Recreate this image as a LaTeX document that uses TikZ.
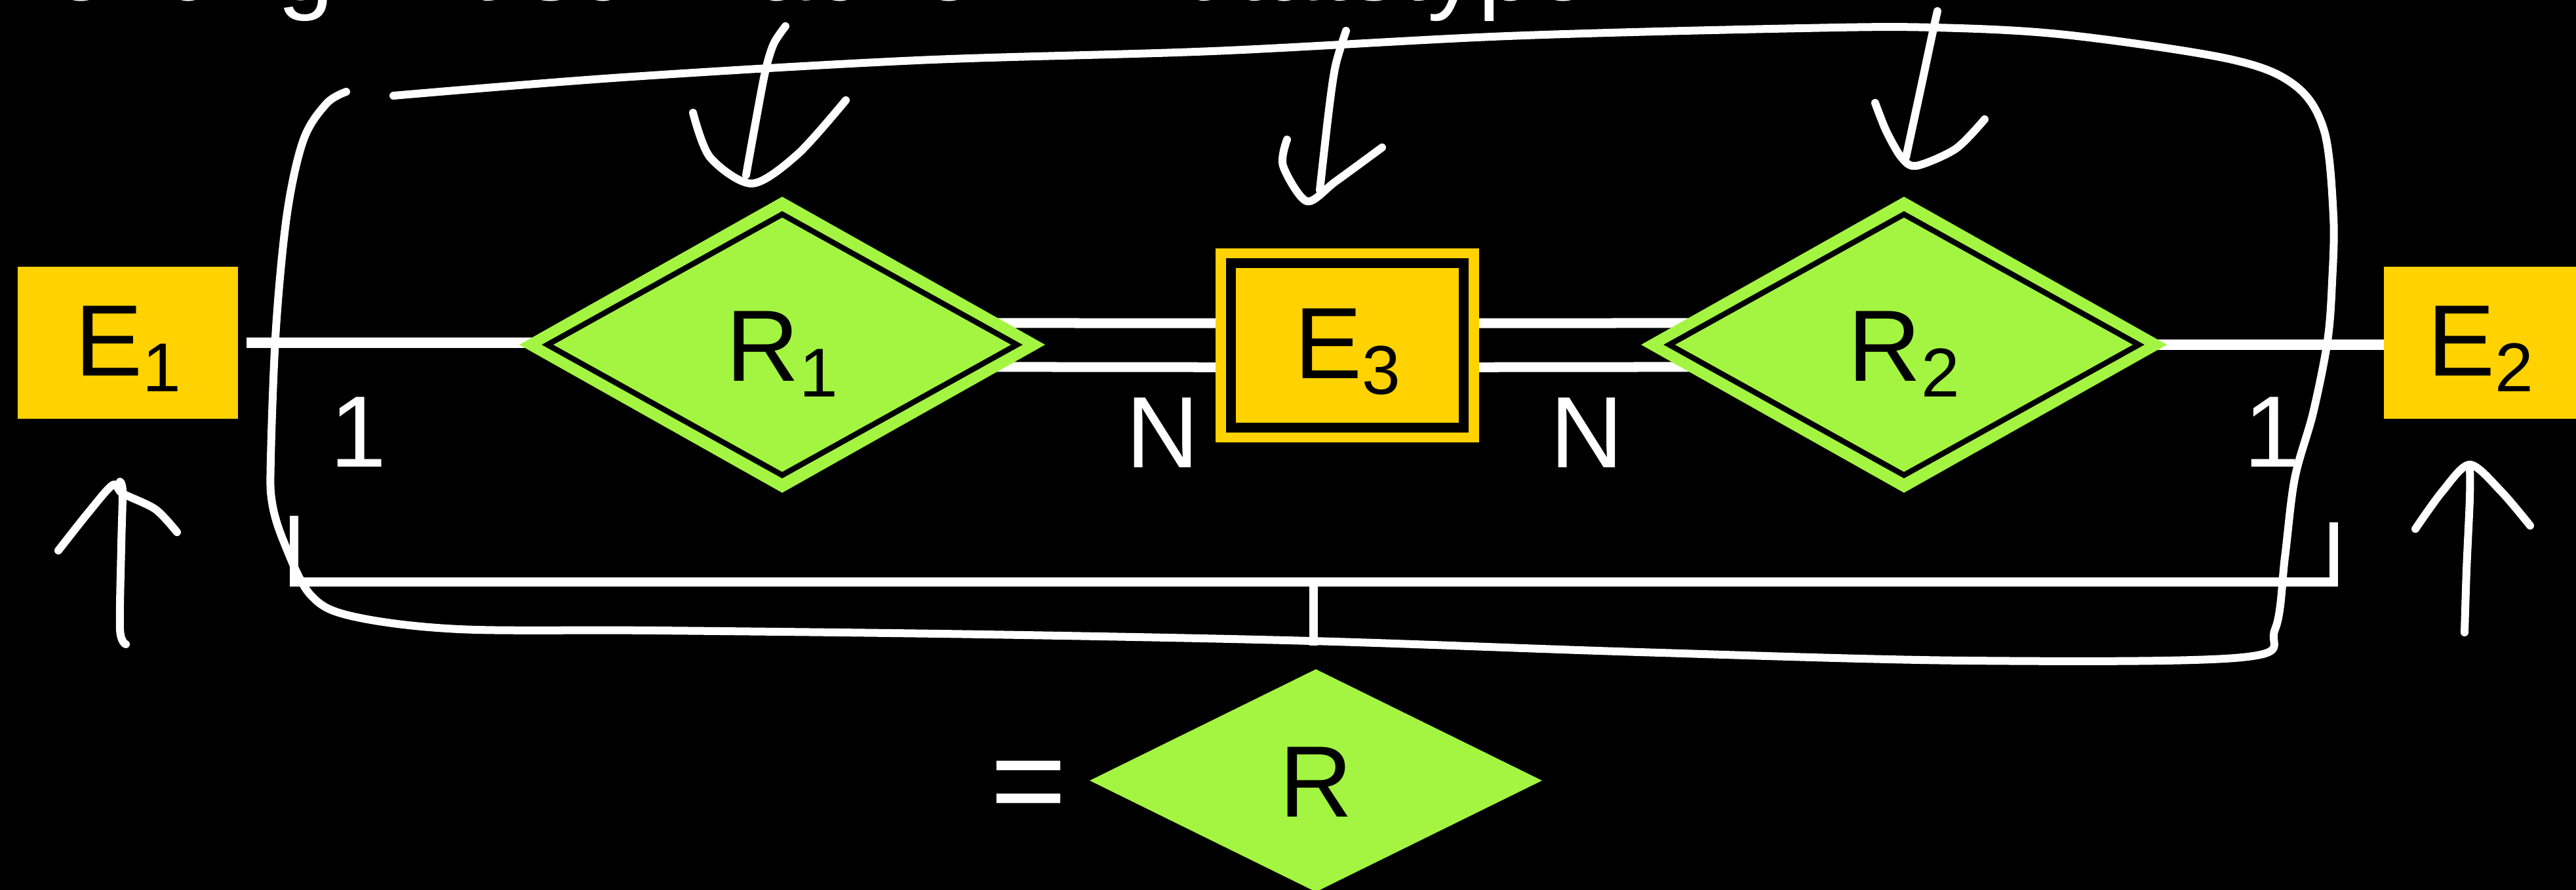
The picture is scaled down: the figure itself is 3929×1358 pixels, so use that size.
\documentclass[tikz,border=0pt]{standalone}
\usepackage{fontspec}
\setmainfont{Liberation Sans}
\usetikzlibrary{shapes.geometric,calc}
\definecolor{yel}{RGB}{255,210,0}
\definecolor{grn}{RGB}{163,245,66}
\newcommand\subx[1]{\raisebox{-0.24cm}{\fontsize{30pt}{30pt}\selectfont #1}}
\pgfdeclarelayer{bg}
\pgfdeclarelayer{conn}
\pgfsetlayers{bg,conn,main}
\begin{document}
\begin{tikzpicture}[x=0.01cm,y=-0.01cm, font=\fontsize{44pt}{48pt}\selectfont,
 ent/.style={rectangle, fill=yel, inner sep=0, minimum width=3.36cm, minimum height=2.32cm, text height=1.1cm, text depth=0.1cm},
 rel/.style={diamond, fill=grn, inner sep=0, minimum width=8.02cm, minimum height=4.52cm, text height=1.2cm, text depth=0.1cm},
 lbl/.style={white, inner sep=0, anchor=base},
 conn/.style={white, line width=0.15cm},
 dconn/.style={white, line width=0.15cm, double=black, double distance=0.52cm},
 ink/.style={white, line width=0.12cm, line cap=round, line join=round},
 brk/.style={white, line width=0.13cm},
 inner/.style={black, line width=0.085cm, line join=miter}
]
\useasboundingbox (0,0) rectangle (3929,1358);
\clip (0,0) rectangle (3929,1358);
\begin{pgfonlayer}{bg}
\fill[black] (0,0) rectangle (3929,1358);
\end{pgfonlayer}

% title (cut off by the page edge)
\node[white, inner sep=0, anchor=base east] (title) at (2514,1) {Beziehung mit schwachen Entitätstypen};

% entities and relationships
\node[ent] (E1) at (195,523) {E\subx{1}};
\node[rel] (R1) at (1193,526) {R\subx{1}};
\node[ent, minimum width=4.01cm, minimum height=2.96cm] (E3) at (2055,527) {E\subx{3}};
\node[rel] (R2) at (2904,526) {R\subx{2}};
\node[ent, minimum width=2.93cm] (E2) at (3783,523) {E\subx{2}};
\node[rel, minimum width=6.9cm, minimum height=3.4cm] (R) at (2007,1191) {R};

% inner borders (weak entity / identifying relationships)
\draw[inner] ($(R1.center)+(-358,0)$) -- ($(R1.center)+(0,-199)$) -- ($(R1.center)+(358,0)$) -- ($(R1.center)+(0,199)$) -- cycle;
\draw[inner] ($(R2.center)+(-358,0)$) -- ($(R2.center)+(0,-199)$) -- ($(R2.center)+(358,0)$) -- ($(R2.center)+(0,199)$) -- cycle;
\draw[black, line width=0.15cm] ($(E3.north west)+(24,23)$) rectangle ($(E3.south east)+(-24,-23)$);

% connectors
\begin{pgfonlayer}{conn}
\draw[conn, shorten <=0.12cm] (E1.east) -- (E1.east -| R1.center);
\draw[dconn] (R1.center) -- (E3.center);
\draw[dconn] (E3.center) -- (R2.center);
\draw[conn] (R2.center) -- (R2.center -| E2.west);
\end{pgfonlayer}

% cardinalities
\node[lbl] (c1) at (547,712) {1};
\node[lbl] (n1) at (1773,713) {N};
\node[lbl] (n2) at (2420,713) {N};
\node[lbl] (c2) at (3465,712) {1};

% equals sign
\node[white, inner sep=0, anchor=base west, font=\fontsize{57pt}{60pt}\selectfont] (eq) at (1510,1259) {=};

% bracket
\coordinate (bl) at (448,787);
\coordinate (br) at (3559,797);
\coordinate (bm) at (2003,888);
\coordinate (bt) at (2003,985);
\draw[brk] (bl) -- (bl |- bm) -- (br |- bm) -- (br);
\draw[brk] (bm) -- (bt);

% hand-drawn loop
\draw[ink] plot[smooth, tension=0.55] coordinates {(600,146) (950,118) (1400,92) (1850,78) (2300,55) (2750,43) (2950,42) (3150,53) (3400,90) (3500,130) (3545,200) (3559,330) (3557,430) (3550,520) (3528,630) (3500,730) (3485,850) (3470,960) (3420,1003) (3000,1008) (2500,995) (2000,978) (1500,968) (1000,962) (700,960) (536,940) (473,907) (433,827) (415,767) (413,700) (421,500) (438,325) (463,213) (498,158) (528,140)};

% hand-drawn arrows above
\draw[ink] plot[smooth] coordinates {(1198,40) (1180,67) (1167,110) (1150,200) (1138,267)};
\draw[ink] plot[smooth] coordinates {(1057,172) (1083,240) (1147,280) (1217,235) (1290,153)};
\draw[ink] plot[smooth] coordinates {(2053,47) (2037,100) (2027,167) (2013,290)};
\draw[ink] plot[smooth] coordinates {(1963,213) (1957,253) (1993,307) (2037,277) (2108,225)};
\draw[ink] plot[smooth] coordinates {(2955,17) (2947,53) (2930,133) (2907,240)};
\draw[ink] plot[smooth] coordinates {(2860,157) (2877,200) (2900,240) (2923,253) (2983,227) (3027,182)};

% hand-drawn arrows below
\draw[ink] plot[smooth] coordinates {(192,983) (183,960) (185,833) (187,750) (183,735)};
\draw[ink] plot[smooth] coordinates {(89,840) (134,783) (172,740) (187,753) (237,777) (270,812)};
\draw[ink] plot[smooth] coordinates {(3759,965) (3762,870) (3767,760) (3767,709)};
\draw[ink] plot[smooth] coordinates {(3684,807) (3725,750) (3767,709) (3815,750) (3859,802)};
\end{tikzpicture}
\end{document}
